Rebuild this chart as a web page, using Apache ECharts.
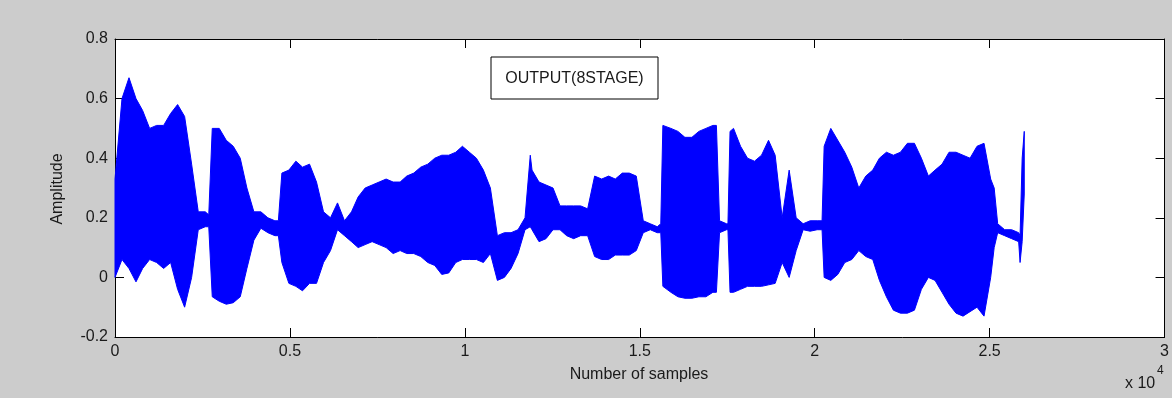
<!DOCTYPE html>
<html>
<head>
<meta charset="utf-8">
<script src="https://cdn.jsdelivr.net/npm/echarts@6/dist/echarts.min.js"></script>
<style>
  html, body { margin: 0; padding: 0; background: #cccccc; }
  #chart { width: 1172px; height: 398px; }
</style>
</head>
<body>
<div id="chart"></div>
<script>
// envelope of the waveform (sample index, upper / lower amplitude)
const sampleIndex = [
  0, 200, 400, 600, 790, 990, 1190, 1390, 1590, 1790, 1990, 2190, 2380, 2580, 2680,
  2780, 2980, 3180, 3380, 3580, 3770, 3970, 4170, 4370, 4570, 4670, 4770, 4970, 5170,
  5360, 5560, 5760, 5960, 6160, 6360, 6560, 6760, 6950, 7150, 7350, 7550, 7750, 7950,
  8150, 8340, 8540, 8740, 8940, 9140, 9340, 9540, 9740, 9930, 10130, 10330, 10530,
  10730, 10930, 11130, 11320, 11520, 11720, 11870, 11920, 12120, 12320, 12520, 12720,
  12910, 13110, 13310, 13510, 13710, 13910, 14110, 14300, 14500, 14700, 14900, 15100,
  15300, 15500, 15600, 15660, 15890, 16090, 16290, 16490, 16690, 16890, 17090, 17190,
  17280, 17480, 17520, 17580, 17680, 17880, 18080, 18280, 18480, 18680, 18870, 19070,
  19270, 19470, 19670, 19870, 20070, 20210, 20270, 20460, 20660, 20860, 21060, 21260,
  21460, 21660, 21850, 22050, 22250, 22450, 22650, 22850, 23050, 23250, 23440, 23640,
  23840, 24040, 24240, 24440, 24640, 24840, 25030, 25130, 25230, 25430, 25630, 25830,
  25870, 25930, 25990
];
const upperEnv = [
  0.33, 0.60, 0.67, 0.60, 0.56, 0.50, 0.51, 0.51, 0.55, 0.58, 0.54, 0.38, 0.22, 0.22, 0.21,
  0.50, 0.50, 0.46, 0.44, 0.40, 0.30, 0.22, 0.22, 0.20, 0.19, 0.19, 0.35, 0.36, 0.39,
  0.37, 0.38, 0.32, 0.22, 0.20, 0.25, 0.19, 0.22, 0.27, 0.30, 0.31, 0.32, 0.33, 0.32,
  0.32, 0.34, 0.35, 0.37, 0.38, 0.40, 0.41, 0.41, 0.42, 0.44, 0.42, 0.40, 0.36,
  0.30, 0.14, 0.15, 0.15, 0.16, 0.20, 0.41, 0.36, 0.32, 0.31, 0.30, 0.24,
  0.24, 0.24, 0.24, 0.23, 0.34, 0.33, 0.34, 0.33, 0.35, 0.35, 0.34, 0.19,
  0.18, 0.17, 0.18, 0.51, 0.50, 0.49, 0.47, 0.47, 0.49, 0.50, 0.51, 0.51,
  0.19, 0.18, 0.18, 0.49, 0.50, 0.44, 0.40, 0.39, 0.41, 0.46, 0.41, 0.20,
  0.36, 0.20, 0.18, 0.19, 0.19, 0.19, 0.44, 0.50, 0.46, 0.42, 0.37, 0.30,
  0.34, 0.36, 0.40, 0.42, 0.41, 0.42, 0.45, 0.45, 0.40, 0.34, 0.36, 0.38,
  0.42, 0.42, 0.41, 0.40, 0.44, 0.45, 0.33, 0.30, 0.18, 0.16, 0.16, 0.15,
  0.14, 0.40, 0.49
];
const lowerEnv = [
  0.00, 0.06, 0.03, -0.015, 0.03, 0.06, 0.05, 0.03, 0.05, -0.04, -0.10, 0.00, 0.16, 0.17, 0.17,
  -0.065, -0.08, -0.09, -0.085, -0.065, 0.03, 0.125, 0.165, 0.15, 0.14, 0.14, 0.05, -0.02, -0.03,
  -0.045, -0.02, -0.02, 0.05, 0.09, 0.16, 0.14, 0.12, 0.10, 0.11, 0.12, 0.11, 0.10, 0.08,
  0.09, 0.08, 0.08, 0.07, 0.05, 0.04, 0.01, 0.015, 0.05, 0.06, 0.06, 0.06, 0.05,
  0.08, -0.01, 0.00, 0.03, 0.08, 0.16, 0.17, 0.16, 0.12, 0.13, 0.16, 0.16,
  0.14, 0.13, 0.14, 0.14, 0.07, 0.06, 0.06, 0.075, 0.075, 0.075, 0.09, 0.15,
  0.16, 0.15, 0.15, -0.03, -0.05, -0.065, -0.07, -0.07, -0.065, -0.065, -0.05, -0.05,
  0.15, 0.16, 0.16, -0.05, -0.05, -0.04, -0.03, -0.03, -0.03, -0.025, -0.02, 0.05,
  0.00, 0.09, 0.16, 0.155, 0.16, 0.16, 0.00, -0.01, 0.01, 0.05, 0.06, 0.09,
  0.07, 0.06, -0.01, -0.065, -0.11, -0.12, -0.12, -0.11, -0.04, 0.00, -0.01, -0.05,
  -0.09, -0.12, -0.13, -0.115, -0.10, -0.13, 0.00, 0.10, 0.15, 0.14, 0.13, 0.12,
  0.05, 0.12, 0.28
];

const xMin = 0, xMax = 30000, xStep = 5000;
const yMin = -0.2, yMax = 0.8, yStep = 0.2;
const legendText = 'OUTPUT(8STAGE)';
const xTitle = 'Number of samples';
const yTitle = 'Amplitude';

const FONT = '"Liberation Sans", Arial, sans-serif';
const TXT = '#1a1a1a';
const BLUE = '#0000ff';

const chart = echarts.init(document.getElementById('chart'), null, { renderer: 'canvas' });

// one closed shape: along the upper envelope, back along the lower one
const renderWave = (params, api) => {
  const top = sampleIndex.map((s, i) => api.coord([s, upperEnv[i]]));
  const bottom = sampleIndex.map((s, i) => api.coord([s, lowerEnv[i]])).reverse();
  return {
    type: 'polygon',
    shape: { points: top.concat(bottom) },
    style: { fill: BLUE, stroke: BLUE, lineWidth: 1 }
  };
};

const frameAxis = {
  axisLine: { show: true, onZero: false, lineStyle: { color: '#000', width: 1 } },
  axisTick: { show: true, inside: true, length: 9, lineStyle: { color: '#000' } },
  splitLine: { show: false }
};

const option = {
  backgroundColor: '#cccccc',
  animation: false,
  grid: { left: 115, right: 5, top: 39, bottom: 61, show: true, backgroundColor: '#ffffff', borderWidth: 0 },
  xAxis: [
    Object.assign({
      type: 'value', min: xMin, max: xMax, interval: xStep, position: 'bottom',
      axisLabel: {
        color: TXT, fontFamily: FONT, fontSize: 16, margin: 7,
        formatter: v => String(v / 10000)
      }
    }, frameAxis),
    Object.assign({
      type: 'value', min: xMin, max: xMax, interval: xStep, position: 'top',
      axisLabel: { show: false }
    }, frameAxis)
  ],
  yAxis: [
    Object.assign({
      type: 'value', min: yMin, max: yMax, interval: yStep, position: 'left',
      axisLabel: {
        color: TXT, fontFamily: FONT, fontSize: 16, margin: 7,
        formatter: v => String(Number(v.toFixed(1)))
      }
    }, frameAxis),
    Object.assign({
      type: 'value', min: yMin, max: yMax, interval: yStep, position: 'right',
      axisLabel: { show: false }
    }, frameAxis)
  ],
  series: [
    {
      name: 'OUTPUT(8STAGE)',
      type: 'custom',
      renderItem: renderWave,
      data: [[sampleIndex[0], upperEnv[0]]],
      silent: true,
      z: 2
    }
  ],
  graphic: [
    {
      type: 'rect',
      shape: { x: 491, y: 57, width: 167, height: 42 },
      style: { fill: '#ffffff', stroke: '#000000', lineWidth: 1 },
      z: 10
    },
    {
      type: 'text',
      x: 574.5, y: 79,
      style: { text: legendText, fill: TXT, font: '16px ' + FONT, align: 'center', verticalAlign: 'middle' },
      z: 11
    },
    {
      type: 'text',
      x: 639, y: 375,
      style: { text: xTitle, fill: TXT, font: '16px ' + FONT, align: 'center', verticalAlign: 'middle' }
    },
    {
      type: 'text',
      x: 58, y: 189, rotation: Math.PI / 2,
      style: { text: yTitle, fill: TXT, font: '16px ' + FONT, align: 'center', verticalAlign: 'middle' }
    },
    {
      type: 'text',
      x: 1125, y: 384,
      style: { text: 'x 10', fill: TXT, font: '16px ' + FONT, align: 'left', verticalAlign: 'middle' }
    },
    {
      type: 'text',
      x: 1157, y: 371,
      style: { text: '4', fill: TXT, font: '12px ' + FONT, align: 'left', verticalAlign: 'middle' }
    }
  ]
};

chart.setOption(option);
</script>
</body>
</html>
